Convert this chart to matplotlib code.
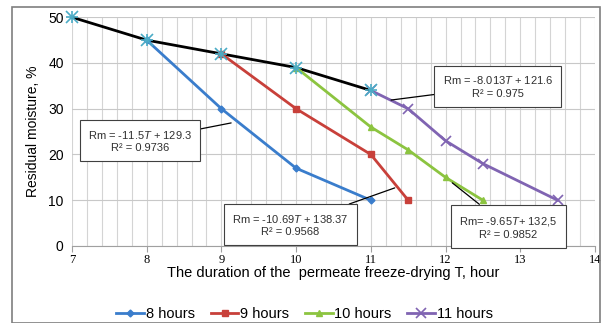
import matplotlib.pyplot as plt
from matplotlib.patches import Rectangle
from matplotlib.ticker import MultipleLocator

# data
t_env = [7, 8, 9, 10, 11]
rm_env = [50, 45, 42, 39, 34]

t_8 = [8, 9, 10, 11]
rm_8 = [45, 30, 17, 10]
t_9 = [9, 10, 11, 11.5]
rm_9 = [42, 30, 20, 10]
t_10 = [10, 11, 11.5, 12, 12.5]
rm_10 = [39, 26, 21, 15, 10]
t_11 = [11, 11.5, 12, 12.5, 13.5]
rm_11 = [34, 30, 23, 18, 10]

plt.rcParams['font.family'] = ['Liberation Sans', 'DejaVu Sans']
plt.rcParams['mathtext.fontset'] = 'custom'
plt.rcParams['mathtext.it'] = 'Liberation Sans:italic'
plt.rcParams['mathtext.rm'] = 'Liberation Sans'

fig = plt.figure(figsize=(6.09, 3.23), dpi=100)
ax = fig.add_axes([0.1182, 0.2384, 0.8588, 0.7082])

fig.patches.append(Rectangle((12 / 609, 0), 588 / 609, 1 - 7 / 323, transform=fig.transFigure,
                             fill=False, edgecolor='#7f7f7f', linewidth=1.2))

ax.plot(t_env, rm_env, color='black', lw=2, zorder=3, clip_on=False)
ax.plot(t_8, rm_8, color='#3a7dcc', lw=2, marker='D', ms=3.5, label='8 hours', zorder=4)
ax.plot(t_9, rm_9, color='#c8403a', lw=2, marker='s', ms=5, label='9 hours', zorder=4)
ax.plot(t_10, rm_10, color='#8cc440', lw=2, marker='^', ms=5, label='10 hours', zorder=4)
ax.plot(t_11, rm_11, color='#8064b2', lw=2, marker='x', ms=7, mew=1.2, label='11 hours', zorder=4)
ax.plot(t_env, rm_env, ls='none', marker='x', ms=8, mew=1.2, color='#4bacc6', zorder=5, clip_on=False)
ax.plot(t_env, rm_env, ls='none', marker='+', ms=8, mew=1.2, color='#4bacc6', zorder=5, clip_on=False)

ax.set_xlim(7, 14)
ax.set_ylim(0, 50)
ax.xaxis.set_major_locator(MultipleLocator(1))
ax.xaxis.set_minor_locator(MultipleLocator(0.2))
ax.yaxis.set_major_locator(MultipleLocator(10))
ax.grid(which='both', axis='x', color='#d4d4d4', lw=0.8)
ax.grid(which='major', axis='y', color='#c8c8c8', lw=0.8)
ax.set_axisbelow(True)
for s in ['top', 'right', 'left']:
    ax.spines[s].set_visible(False)
ax.spines['bottom'].set_color('#a0a0a0')
ax.tick_params(axis='y', length=0, labelsize=10, pad=6)
ax.tick_params(axis='x', which='major', length=4, color='#a0a0a0', labelsize=9, pad=2)
ax.tick_params(axis='x', which='minor', length=0)
for lab in ax.get_xticklabels():
    lab.set_family('Liberation Serif')

ax.set_ylabel('Residual moisture, %', fontsize=10, labelpad=6)
ax.set_xlabel('The duration of the  permeate freeze-drying T, hour', fontsize=10.5, labelpad=0)

box = dict(boxstyle='square,pad=0.75', fc='white', ec='#404040', lw=0.8)
ann = [
    ('Rm = -11.5$T$ + 129.3\nR² = 0.9736', (9.13, 26.9), (7.91, 23.0)),
    ('Rm = -10.69$T$ + 138.37\nR² = 0.9568', (11.32, 12.7), (9.92, 4.6)),
    ('Rm = -8.013$T$ + 121.6\nR² = 0.975', (11.27, 31.9), (12.70, 34.9)),
    ('Rm= -9.65$T$+ 132,5\nR² = 0.9852', (12.09, 13.8), (12.84, 4.1)),
]
for txt, xy, xyt in ann:
    ax.annotate(txt, xy=xy, xytext=xyt, fontsize=8, ha='center', va='center',
                color='#303030', bbox=box, linespacing=1.3,
                arrowprops=dict(arrowstyle='-', color='black', lw=0.9, shrinkA=0, shrinkB=0),
                zorder=6)

fig.legend(loc='lower center', bbox_to_anchor=(0.5, -0.035), ncol=4, frameon=False,
           fontsize=10.5, handlelength=1.9, columnspacing=1.1, handletextpad=0.1)

fig.savefig('out.png', dpi=100)
